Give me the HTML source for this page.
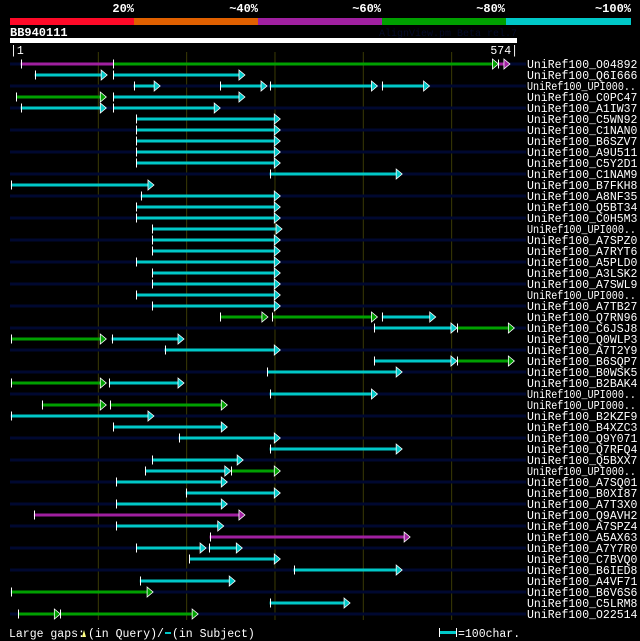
<!DOCTYPE html>
<html><head><meta charset="utf-8"><style>
html,body{margin:0;padding:0;background:#000;}
svg{display:block;}
text{font-family:"Liberation Mono",monospace;}
</style></head><body>
<svg id="chart" width="640" height="641" viewBox="0 0 640 641" xmlns="http://www.w3.org/2000/svg">
<rect width="640" height="641" fill="#000"/>
<g>
<rect x="10" y="18" width="124" height="7" fill="#ff0a28"/>
<rect x="134" y="18" width="124" height="7" fill="#e06000"/>
<rect x="258" y="18" width="124" height="7" fill="#a020a0"/>
<rect x="382" y="18" width="124" height="7" fill="#00a000"/>
<rect x="506" y="18" width="125" height="7" fill="#00c8c8"/>
<g font-size="12" font-weight="bold" fill="#fff" text-anchor="end">
<text x="134" y="12">20%</text><text x="258" y="12">~40%</text><text x="381" y="12">~60%</text><text x="505" y="12">~80%</text><text x="631" y="12">~100%</text>
</g></g>
<text x="10" y="36" font-size="12" font-weight="bold" fill="#fff">BB940111</text>
<text x="517" y="36" font-size="10" fill="#050a28" text-anchor="end">AlignView.pm Beta rel.7</text>
<rect x="10" y="38" width="507" height="5" fill="#fff"/>
<text x="10" y="54" font-size="11.5" fill="#fff">|1</text>
<text x="518" y="54" font-size="11.5" fill="#fff" text-anchor="end">574|</text>
<g id="grid"></g><g id="rows"></g>
<g font-size="11.5" fill="#fff">
<text x="9" y="637">Large gaps:</text>
<polygon points="82,637 84,630 86,637" fill="#ffff80"/>
<text x="88" y="637">(in Query)/</text>
<line x1="165" y1="633" x2="171" y2="633" stroke="#00c8c8" stroke-width="2"/>
<text x="172" y="637">(in Subject)</text>
<rect x="440" y="631" width="17" height="3" fill="#00c8c8"/>
<line x1="439.5" y1="628" x2="439.5" y2="637" stroke="#fff"/>
<line x1="456.5" y1="628" x2="456.5" y2="637" stroke="#fff"/>
<text x="458" y="637">=100char.</text>
</g>
</svg>
<script>
const queryLength = 574;
const gridTicks = [100, 200, 300, 400, 500];
const colors = ["#ff0a28", "#e06000", "#a020a0", "#00a000", "#00c8c8"];
const hitNames = ["UniRef100_O04892","UniRef100_Q6I666","UniRef100_UPI000..","UniRef100_C0PC47","UniRef100_A1IW37","UniRef100_C5WN92","UniRef100_C1NAN0","UniRef100_B6SZV7","UniRef100_A9U511","UniRef100_C5Y2D1","UniRef100_C1NAM9","UniRef100_B7FKH8","UniRef100_A8NF35","UniRef100_Q5BT34","UniRef100_C0H5M3","UniRef100_UPI000..","UniRef100_A7SPZ0","UniRef100_A7RYT6","UniRef100_A5PLD0","UniRef100_A3LSK2","UniRef100_A7SWL9","UniRef100_UPI000..","UniRef100_A7TB27","UniRef100_Q7RN96","UniRef100_C6JSJ8","UniRef100_Q0WLP3","UniRef100_A7T2Y9","UniRef100_B6SQP7","UniRef100_B0WSK5","UniRef100_B2BAK4","UniRef100_UPI000..","UniRef100_UPI000..","UniRef100_B2KZF9","UniRef100_B4XZC3","UniRef100_Q9Y071","UniRef100_Q7RFQ4","UniRef100_Q5BXX7","UniRef100_UPI000..","UniRef100_A7SQ01","UniRef100_B0XI87","UniRef100_A7T3X0","UniRef100_Q9AVH2","UniRef100_A7SPZ4","UniRef100_A5AX63","UniRef100_A7Y7R0","UniRef100_C7BVQ0","UniRef100_B6IED8","UniRef100_A4VF71","UniRef100_B6V6S6","UniRef100_C5LRM8","UniRef100_O22514"];
// segments per hit: [start, end, colorIndex, hasArrow]
const hitSegments = [
[[12,117,2,0],[117,553,3,1],[553,566,2,1]],
[[28,110,4,1],[117,266,4,1]],
[[140,170,4,1],[238,291,4,1],[294,416,4,1],[421,475,4,1]],
[[7,109,3,1],[117,266,4,1]],
[[12,109,4,1],[117,238,4,1]],
[[143,306,4,1]],[[143,306,4,1]],[[143,306,4,1]],[[143,306,4,1]],[[143,306,4,1]],
[[294,444,4,1]],
[[1,163,4,1]],
[[148,306,4,1]],[[143,306,4,1]],[[143,306,4,1]],
[[161,308,4,1]],[[161,306,4,1]],[[161,306,4,1]],[[143,306,4,1]],[[161,306,4,1]],[[161,306,4,1]],[[143,306,4,1]],[[161,306,4,1]],
[[238,292,3,1],[297,416,3,1],[421,482,4,1]],
[[412,506,4,1],[506,571,3,1]],
[[1,109,3,1],[115,197,4,1]],
[[175,306,4,1]],
[[412,506,4,1],[506,571,3,1]],
[[291,444,4,1]],
[[1,109,3,1],[112,197,4,1]],
[[294,416,4,1]],
[[36,109,3,1],[113,246,3,1]],
[[1,163,4,1]],
[[117,246,4,1]],
[[191,306,4,1]],
[[294,444,4,1]],
[[161,264,4,1]],
[[153,250,4,1],[250,306,3,1]],
[[120,246,4,1]],
[[199,306,4,1]],
[[120,246,4,1]],
[[27,266,2,1]],
[[120,242,4,1]],
[[226,453,2,1]],
[[143,222,4,1],[225,263,4,1]],
[[203,306,4,1]],
[[321,444,4,1]],
[[147,255,4,1]],
[[1,162,3,1]],
[[294,385,4,1]],
[[9,57,3,1],[57,213,3,1]]
];
const NS = "http://www.w3.org/2000/svg";
const X0 = 10, X1 = 517;
function xScale(p){ return X0 + p * (X1 - X0) / queryLength; }
function rowY(i){ return 64 + i * 11; }
function mk(tag, attrs, parent){ const e = document.createElementNS(NS, tag); for (const k in attrs) e.setAttribute(k, attrs[k]); parent.appendChild(e); return e; }
const grid = document.getElementById('grid');
gridTicks.forEach(t => {
  const l = mk('line', {x1: xScale(t), x2: xScale(t), y1: 52, y2: 620, stroke: '#3a3a05', 'stroke-width': 1}, grid);
  
  
});
const rows = document.getElementById('rows');
hitNames.forEach((name, i) => {
  const y = rowY(i);
  const g = mk('g', {}, rows);
  
  
  if (i % 2 === 0) {
    const bg = mk('rect', {x: 10, y: y - 1.5, width: 516, height: 3, fill: '#000830'}, g);
    
    
  }
  (hitSegments[i] || []).forEach(s => {
    const xs = xScale(s[0]), xe = xScale(s[1]), c = colors[s[2]];
    const lineEnd = s[3] ? xe - 5 : xe;
    const seg = mk('rect', {x: xs, y: y - 1.5, width: Math.max(0, lineEnd - xs), height: 3, fill: c}, g);
    
    
    mk('line', {x1: Math.round(xs) + 0.5, x2: Math.round(xs) + 0.5, y1: y - 4.5, y2: y + 4.5, stroke: '#fff', 'stroke-width': 1}, g);
    if (s[3]) {
      const a = mk('polygon', {points: `${xe-6},${y-5} ${xe},${y} ${xe-6},${y+5}`, fill: c, stroke: '#fff', 'stroke-width': 0.8}, g);
      
      
    }
  });
  const t = mk('text', {x: 527, y: y + 4, 'font-size': 11.5, fill: '#fff'}, g);
  
  
  t.textContent = name;
  if (name.endsWith('..')) {
    t.setAttribute('textLength', '109');
    t.setAttribute('lengthAdjust', 'spacingAndGlyphs');
  }
});
</script>
</body></html>
